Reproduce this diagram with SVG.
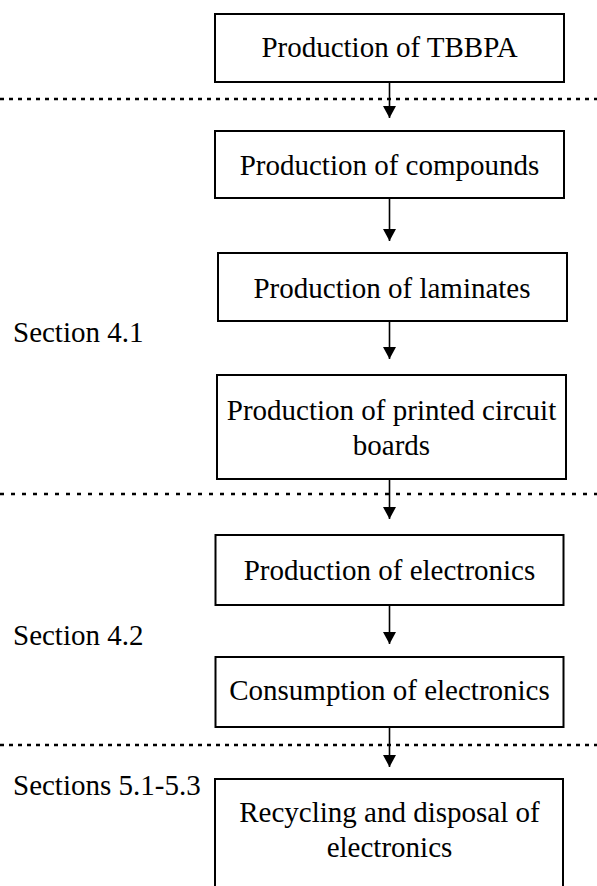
<svg xmlns="http://www.w3.org/2000/svg" width="597" height="886" viewBox="0 0 597 886">
<defs>
<marker id="ah" markerUnits="userSpaceOnUse" markerWidth="12" markerHeight="13" refX="12" refY="6.5" orient="auto" viewBox="0 0 12 13">
<path d="M0,0 L12,6.5 L0,13 Z" fill="#000"/>
</marker>
<style>
.box{fill:#fff;stroke:#000;stroke-width:2}
.t{font-family:"Liberation Serif","Times New Roman",serif;font-size:29px;fill:#000}
.c{text-anchor:middle}
.sep{stroke:#000;stroke-width:2.5;fill:none}
.arr{stroke:#000;stroke-width:1.6;fill:none}
</style>
</defs>
<rect width="597" height="886" fill="#fff"/>
<g id="separators">
<line class="sep" x1="0" y1="99" x2="597" y2="99" stroke-dasharray="4 5"/>
<line class="sep" x1="0" y1="494" x2="597" y2="494" stroke-dasharray="4 7"/>
<line class="sep" x1="0" y1="745" x2="597" y2="745" stroke-dasharray="4 5"/>
</g>
<g id="connectors">
<line class="arr" x1="389.5" y1="82" x2="389.5" y2="118" marker-end="url(#ah)"/>
<line class="arr" x1="389.5" y1="198" x2="389.5" y2="241" marker-end="url(#ah)"/>
<line class="arr" x1="389.5" y1="321" x2="389.5" y2="359" marker-end="url(#ah)"/>
<line class="arr" x1="389.5" y1="479" x2="389.5" y2="519" marker-end="url(#ah)"/>
<line class="arr" x1="389.5" y1="605" x2="389.5" y2="644" marker-end="url(#ah)"/>
<line class="arr" x1="389.5" y1="727" x2="389.5" y2="767" marker-end="url(#ah)"/>
</g>
<g id="n1"><rect class="box" x="215" y="14" width="349" height="68"/><text class="t c" x="389.5" y="57">Production of TBBPA</text></g>
<g id="n2"><rect class="box" x="215" y="131" width="349" height="67"/><text class="t c" x="389.5" y="175">Production of compounds</text></g>
<g id="n3"><rect class="box" x="218" y="253" width="349" height="68"/><text class="t c" x="392" y="298">Production of laminates</text></g>
<g id="n4"><rect class="box" x="217" y="375" width="349" height="104"/><text class="t c" x="391.5" y="420">Production of printed circuit</text><text class="t c" x="391.5" y="455">boards</text></g>
<g id="n5"><rect class="box" x="215.5" y="535" width="348" height="70"/><text class="t c" x="389.5" y="580">Production of electronics</text></g>
<g id="n6"><rect class="box" x="215.5" y="657" width="348" height="70"/><text class="t c" x="389.5" y="700">Consumption of electronics</text></g>
<g id="n7"><path class="box" d="M215,890 V779 H563 V890"/><text class="t c" x="389.5" y="822">Recycling and disposal of</text><text class="t c" x="389.5" y="857">electronics</text></g>
<g id="labels">
<text class="t" x="13" y="342">Section 4.1</text>
<text class="t" x="13" y="645">Section 4.2</text>
<text class="t" x="13" y="795">Sections 5.1-5.3</text>
</g>
</svg>
